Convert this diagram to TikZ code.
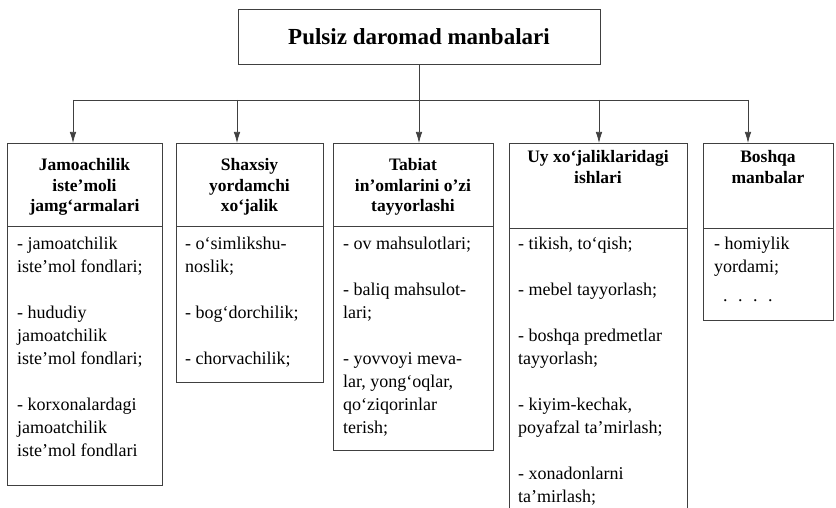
\documentclass[tikz,border=0pt]{standalone}
\usepackage{fontspec}
\setmainfont{Liberation Serif}
\usetikzlibrary{arrows.meta}
\begin{document}
\begin{tikzpicture}[x=1pt,y=-1pt,
  line/.style={draw=black!75,line width=0.7pt},
  arr/.style={line,-{Latex[length=11pt,width=6.5pt]}},
  head/.style={font=\fontsize{17.5}{20.5}\selectfont\bfseries,align=center,inner sep=0pt},
  body/.style={font=\fontsize{18}{23}\selectfont,align=left,inner sep=0pt,anchor=north west},
  title/.style={font=\fontsize{23}{26}\selectfont\bfseries,inner sep=0pt}]
\useasboundingbox (0,0) rectangle (836,508);
% title
\node[line,minimum width=362pt,minimum height=55pt,anchor=north west,inner sep=0pt] (T) at (238,9) {};
\node[title] (Tt) at (419,37) {Pulsiz daromad manbalari};
% connectors
\coordinate (J) at (419,100);
\coordinate (B1) at (73,100);
\coordinate (B2) at (237,100);
\coordinate (B4) at (599,100);
\coordinate (B5) at (748,100);
\coordinate (A1) at (73,143);
\coordinate (A2) at (237,143);
\coordinate (A3) at (419,143);
\coordinate (A4) at (599,143);
\coordinate (A5) at (748,143);
\draw[line] (T.south -| J) -- (J);
\draw[line] (B1) -- (B5);
\draw[arr] (B1) -- (A1);
\draw[arr] (B2) -- (A2);
\draw[arr] (J) -- (A3);
\draw[arr] (B4) -- (A4);
\draw[arr] (B5) -- (A5);
% boxes
\draw[line] (7,143) rectangle (162,485);
\draw[line] (7,226) -- (162,226);
\draw[line] (176,143) rectangle (323,382);
\draw[line] (176,226) -- (323,226);
\draw[line] (333,143) rectangle (493,450);
\draw[line] (333,226) -- (493,226);
\draw[line] (509,508) -- (509,143) -- (687,143) -- (687,508);
\draw[line] (509,228) -- (687,228);
\draw[line] (703,143) rectangle (833,320);
\draw[line] (703,228) -- (833,228);
% headers
\node[head] (H1) at (84.5,187) {Jamoachilik\\iste’moli\\jamg‘armalari};
\node[head] (H2) at (249.5,187) {Shaxsiy\\yordamchi\\xo‘jalik};
\node[head] (H3) at (413,187) {Tabiat\\in’omlarini o’zi\\tayyorlashi};
\node[head] (H4) at (598,167) {Uy xo‘jaliklaridagi\\ishlari};
\node[head] (H5) at (768,167) {Boshqa\\manbalar};
% bodies
\node[body] (C1) at (17,237) {- jamoatchilik\\iste’mol fondlari;\\[23pt]- hududiy\\jamoatchilik\\iste’mol fondlari;\\[23pt]- korxonalardagi\\jamoatchilik\\iste’mol fondlari};
\node[body] (C2) at (185,237) {- o‘simlikshu-\\noslik;\\[23pt]- bog‘dorchilik;\\[23pt]- chorvachilik;};
\node[body] (C3) at (343,237) {- ov mahsulotlari;\\[23pt]- baliq mahsulot-\\lari;\\[23pt]- yovvoyi meva-\\lar, yong‘oqlar,\\qo‘ziqorinlar\\terish;};
\node[body] (C4) at (518,237) {- tikish, to‘qish;\\[23pt]- mebel tayyorlash;\\[23pt]- boshqa predmetlar\\tayyorlash;\\[23pt]- kiyim-kechak,\\poyafzal ta’mirlash;\\[23pt]- xonadonlarni\\ta’mirlash;};
\node[body] (C5) at (714,237) {- homiylik\\yordami;\\[6pt]\ \ . \ . \ . \ .};
\end{tikzpicture}
\end{document}
